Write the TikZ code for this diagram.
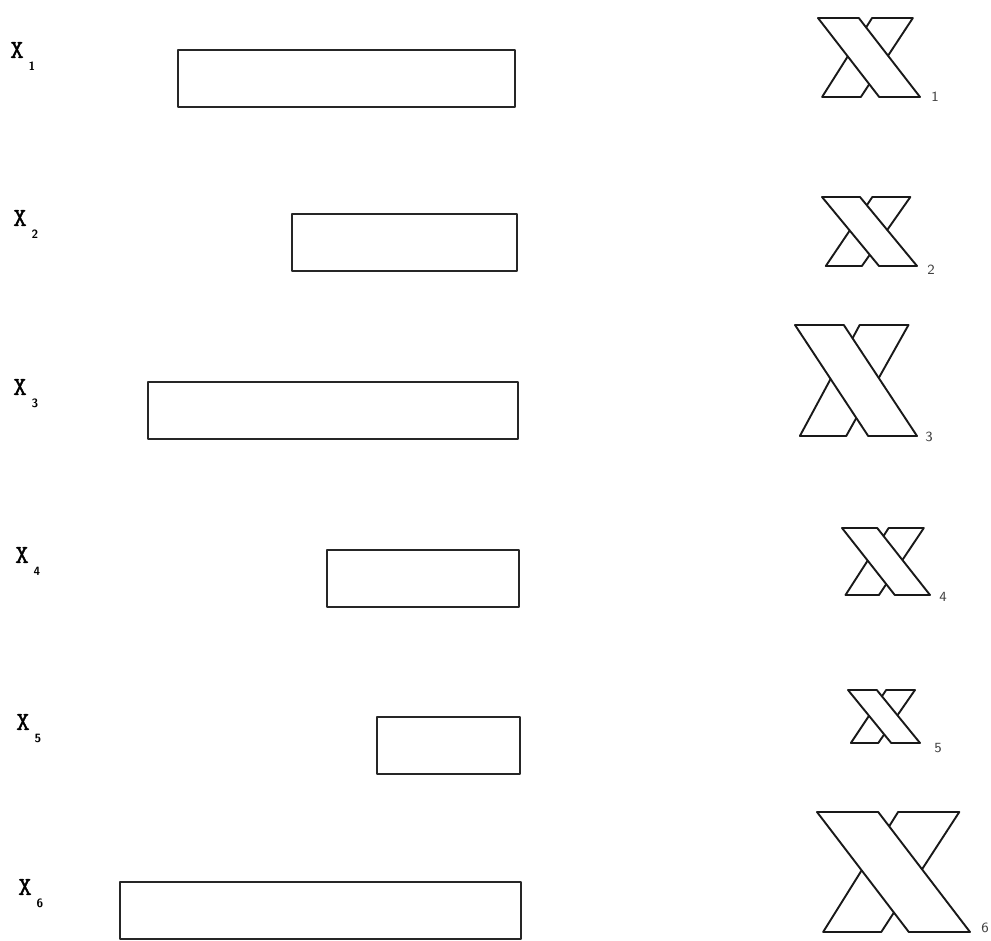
\documentclass[tikz,border=0pt]{standalone}
\usepackage{fontspec}
\newfontfamily\labelfont[FakeBold=1.5]{Latin Modern Mono}
\usetikzlibrary{positioning}

% one crossed glyph: name, x, y (top left), width, height
\newcommand{\crossglyph}[5]{%
  \begin{scope}[shift={(#2,#3)}, xscale=#4, yscale=#5]
    \draw[glyph] (0.04,1) -- (0.42,1) -- (0.93,0) -- (0.53,0) -- cycle;
    \draw[glyph] (0,0) -- (0.40,0) -- (1,1) -- (0.60,1) -- cycle;
    \coordinate (#1) at (1,1);
  \end{scope}%
}

\begin{document}
\begin{tikzpicture}[
  x=0.5pt, y=-0.5pt,
  line width=0.95pt,
  bar/.style={draw=black!85, line join=round},
  glyph/.style={draw=black!90, fill=white, line join=round},
  rowlabel/.style={font=\labelfont\fontsize{13}{13}\selectfont, inner sep=0pt},
  rowindex/.style={font=\sffamily\bfseries\fontsize{6}{6}\selectfont, inner sep=0pt},
  glyphindex/.style={font=\sffamily\fontsize{7}{7}\selectfont, inner sep=0pt, text=black!75}
]
\useasboundingbox (0,0) rectangle (991,941);

% bars
\foreach \i/\xl/\yt/\xr in {1/178/50/515, 2/292/214/517, 3/148/382/518,
                             4/327/550/519, 5/377/717/520, 6/120/882/521} {
  \draw[bar] (\xl,\yt) rectangle (\xr,\yt+57);
}

% row labels
\foreach \i/\lx/\ly in {1/17/50, 2/20/218, 3/20/387, 4/22/555, 5/23/722, 6/25/887} {
  \node[rowlabel] (lab\i) at (\lx,\ly) {X};
  \node[rowindex] (idx\i) at (\lx+15,\ly+16) {\i};
}

% crossed glyphs
\crossglyph{g1}{818}{18}{102}{79}
\crossglyph{g2}{822}{197}{95}{69}
\crossglyph{g3}{795}{325}{122}{111}
\crossglyph{g4}{842}{528}{88}{67}
\crossglyph{g5}{848}{690}{72}{53}
\crossglyph{g6}{817}{812}{153}{120}

\foreach \i/\dx/\dy in {1/15/0, 2/14/4, 3/12/1, 4/13/2, 5/18/5, 6/15/-4} {
  \node[glyphindex] (gi\i) at ([shift={(\dx,\dy)}]g\i) {\i};
}

\end{tikzpicture}
\end{document}
